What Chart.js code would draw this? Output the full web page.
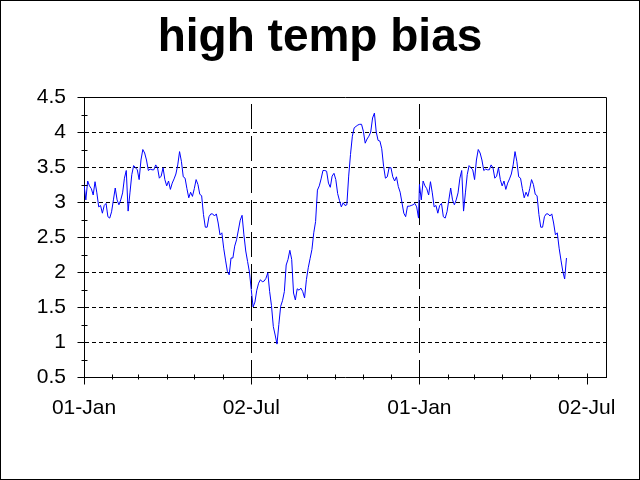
<!DOCTYPE html>
<html>
<head>
<meta charset="utf-8">
<script src="https://cdn.jsdelivr.net/npm/chart.js@4.4.1/dist/chart.umd.min.js"></script>
<style>
  html, body { margin: 0; padding: 0; background: #fff; }
</style>
</head>
<body>
<canvas id="chart" width="640" height="480"></canvas>
<script>
const sampleStep = 2;
const firstYearStart = 0;
const secondYearStart = 365;

const firstYearBias = [
  3.25, 3.03, 3.30, 3.23, 3.19, 3.10, 3.29, 3.13, 2.93, 2.95,
  2.84, 2.95, 2.98, 2.79, 2.77, 2.86, 3.03, 3.20, 3.03, 2.96,
  3.03, 3.13, 3.34, 3.45, 2.87, 3.13, 3.39, 3.52, 3.49, 3.46,
  3.32, 3.60, 3.75, 3.70, 3.60, 3.45, 3.47, 3.46, 3.46, 3.53,
  3.49, 3.34, 3.37, 3.49, 3.32, 3.23, 3.30, 3.18, 3.27, 3.33,
  3.40, 3.53, 3.72, 3.58, 3.36, 3.34, 3.19, 3.06, 3.14, 3.08,
  3.19, 3.32, 3.25, 3.11, 3.09, 2.82, 2.64, 2.64, 2.79, 2.83,
  2.83, 2.80, 2.83, 2.70, 2.53, 2.56, 2.34, 2.17, 2.01, 1.96,
  2.20, 2.20, 2.37, 2.46, 2.60, 2.74, 2.81, 2.53, 2.30, 2.15,
  2.00, 1.75, 1.50, 1.57, 1.74, 1.84, 1.89, 1.86, 1.87, 1.91,
  1.99, 1.72, 1.52, 1.22, 1.10, 0.97, 1.25, 1.51, 1.59, 1.72,
  2.10, 2.18, 2.31, 2.18, 1.70, 1.60, 1.76, 1.74, 1.77, 1.72,
  1.63, 1.89, 2.06, 2.19, 2.32, 2.56, 2.72, 3.17, 3.23, 3.33,
  3.45, 3.45, 3.44, 3.27, 3.21, 3.37, 3.41, 3.32, 3.12, 3.02,
  2.93, 2.99, 2.95, 2.96, 3.37, 3.68, 3.94, 4.06, 4.08, 4.10,
  4.11, 4.11, 4.01, 3.84, 3.90, 3.94, 4.00, 4.20, 4.27, 4.00,
  3.88, 3.87, 3.76, 3.51, 3.34, 3.36, 3.49, 3.49, 3.36, 3.30,
  3.36, 3.22, 3.14, 2.99, 2.84, 2.79, 2.94, 2.94, 2.95, 2.96,
  2.98, 2.93, 2.77
];

const secondYearBias = [
  3.25, 3.03, 3.30, 3.23, 3.19, 3.10, 3.29, 3.13, 2.93, 2.95,
  2.84, 2.95, 2.98, 2.79, 2.77, 2.86, 3.03, 3.20, 3.03, 2.96,
  3.03, 3.13, 3.34, 3.45, 2.87, 3.13, 3.39, 3.52, 3.49, 3.46,
  3.32, 3.60, 3.75, 3.70, 3.60, 3.45, 3.47, 3.46, 3.46, 3.53,
  3.49, 3.34, 3.37, 3.49, 3.32, 3.23, 3.30, 3.18, 3.27, 3.33,
  3.40, 3.53, 3.72, 3.58, 3.36, 3.34, 3.19, 3.06, 3.14, 3.08,
  3.19, 3.32, 3.25, 3.11, 3.09, 2.82, 2.64, 2.64, 2.79, 2.83,
  2.83, 2.80, 2.83, 2.70, 2.53, 2.56, 2.34, 2.17, 2.01, 1.90,
  2.20
];

const xTickDays = [0, 182, 365, 547];
const xTickLabels = ['01-Jan', '02-Jul', '01-Jan', '02-Jul'];
const dashedDays = [182, 365];
const monthTickDays = [31, 59, 90, 120, 151, 212, 243, 273, 304, 334, 396, 424, 455, 485, 516];
const yTicks = [0.5, 1, 1.5, 2, 2.5, 3, 3.5, 4, 4.5];
const yTickLabels = ['0.5', '1', '1.5', '2', '2.5', '3', '3.5', '4', '4.5'];

function toPoints(start, values){
    return values.map((v, i) => ({ x: start + i * sampleStep, y: v }));
}
const points = toPoints(firstYearStart, firstYearBias).concat(toPoints(secondYearStart, secondYearBias));

const tickFont = { family: "'Liberation Sans', Arial, sans-serif", size: 21 };

// Rahmen, Achsenstriche und Außenrand
const frameAndTicks = {
    id: 'frameAndTicks',
    afterDraw(chart){
        const { ctx, chartArea: a, scales: { x, y } } = chart;
        const top = Math.round(a.top) + 0.5;
        const right = Math.round(a.right) + 0.5;
        const bottom = Math.round(a.bottom) + 0.5;
        const left = Math.round(a.left) + 0.5;
        ctx.save();
        ctx.strokeStyle = '#000';
        ctx.lineWidth = 1;
        ctx.setLineDash([]);
        ctx.beginPath();
        ctx.moveTo(left, top);
        ctx.lineTo(right, top);
        ctx.lineTo(right, bottom);
        xTickDays.forEach(d => {
            const px = Math.round(x.getPixelForValue(d)) + 0.5;
            ctx.moveTo(px, bottom - 4);
            ctx.lineTo(px, bottom + 7);
        });
        monthTickDays.forEach(d => {
            const px = Math.round(x.getPixelForValue(d)) + 0.5;
            ctx.moveTo(px, bottom - 3);
            ctx.lineTo(px, bottom + 2);
        });
        yTicks.forEach(v => {
            const py = Math.round(y.getPixelForValue(v)) + 0.5;
            ctx.moveTo(left - 7, py);
            ctx.lineTo(left + 3, py);
        });
        for(let i = 0; i < yTicks.length - 1; i++){
            const py = Math.round(y.getPixelForValue((yTicks[i] + yTicks[i + 1]) / 2)) + 0.5;
            ctx.moveTo(left - 3, py);
            ctx.lineTo(left + 3, py);
        }
        ctx.stroke();
        ctx.strokeRect(0.5, 0.5, chart.width - 1, chart.height - 1);
        ctx.restore();
    }
};

new Chart(document.getElementById('chart'), {
    type: 'line',
    data: {
        datasets: [{
            data: points,
            borderColor: '#0000ff',
            borderWidth: 1,
            pointRadius: 0,
            tension: 0,
            fill: false
        }]
    },
    options: {
        responsive: false,
        animation: false,
        layout: { padding: 0 },
        plugins: {
            legend: { display: false },
            tooltip: { enabled: false },
            title: {
                display: true,
                text: 'high temp bias',
                color: '#000',
                font: { family: "'Liberation Sans', Arial, sans-serif", size: 46, weight: 'bold', lineHeight: 1 },
                padding: { top: 15, bottom: 36 }
            }
        },
        scales: {
            x: {
                type: 'linear',
                min: 0,
                max: 568,
                afterBuildTicks: scale => { scale.ticks = xTickDays.map(v => ({ value: v })); },
                afterFit: scale => { scale.height = 103; },
                ticks: {
                    callback: (v, i) => xTickLabels[i],
                    autoSkip: false,
                    maxRotation: 0,
                    color: '#000',
                    font: tickFont,
                    padding: 19
                },
                grid: {
                    drawTicks: false,
                    lineWidth: 1,
                    color: ctx => ctx.tick && dashedDays.includes(ctx.tick.value) ? '#000' : 'rgba(0,0,0,0)'
                },
                border: { color: '#000', width: 1, dash: [25, 7], dashOffset: 25 }
            },
            y: {
                min: 0.5,
                max: 4.5,
                afterBuildTicks: scale => { scale.ticks = yTicks.map(v => ({ value: v })); },
                afterFit: scale => { scale.width = 84; },
                ticks: {
                    callback: (v, i) => yTickLabels[i],
                    color: '#000',
                    font: tickFont,
                    padding: 18
                },
                grid: {
                    drawTicks: false,
                    lineWidth: 1,
                    color: ctx => ctx.tick && ctx.tick.value > 0.5 && ctx.tick.value < 4.5 ? '#000' : 'rgba(0,0,0,0)'
                },
                border: { color: '#000', width: 1, dash: [4, 3] }
            },
            // leere rechte Achse als Rand, damit der Titel mittig bleibt
            yRight: {
                position: 'right',
                min: 0.5,
                max: 4.5,
                afterFit: scale => { scale.width = 34; },
                ticks: { display: false },
                grid: { display: false },
                border: { display: false }
            }
        }
    },
    plugins: [frameAndTicks]
});
</script>
</body>
</html>
